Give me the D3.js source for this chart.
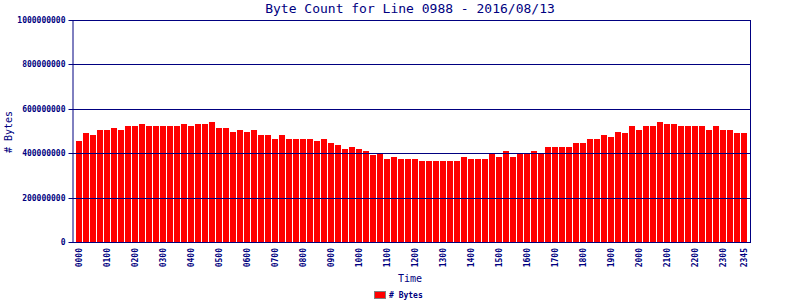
<!DOCTYPE html>
<html><head><meta charset="utf-8">
<script src="https://cdn.jsdelivr.net/npm/d3@7"></script>
<style>body{margin:0;background:#fff}svg{display:block}</style>
</head><body>
<script>
const title = "Byte Count for Line 0988 - 2016/08/13";
const hours = ["00","01","02","03","04","05","06","07","08","09","10","11","12","13","14","15","16","17","18","19","20","21","22","23"];
const quarters = ["00","15","30","45"];
const times = hours.flatMap(h => quarters.map(q => h + q));
const bytes = [
 455,491,486,509,505,518,509,527,527,532,527,527,523,527,527,536,
 523,532,532,541,518,518,500,509,500,505,482,486,468,482,468,468,
 464,464,459,464,446,441,423,432,419,414,392,399,378,387,374,374,
 378,369,365,369,369,369,365,383,378,378,378,399,387,410,387,405,
 399,410,405,428,428,432,428,446,450,464,464,486,477,500,491,523,
 509,527,523,541,532,532,527,527,523,523,505,523,509,509,495,495
].map(v => v * 1e6);
const xTickLabels = ["0000","0100","0200","0300","0400","0500","0600","0700","0800","0900","1000","1100",
 "1200","1300","1400","1500","1600","1700","1800","1900","2000","2100","2200","2300","2345"];
const yTicks = [0,200000000,400000000,600000000,800000000,1000000000];
const seriesName = "# Bytes";

const W = 800, H = 300;
const navy = "#000080";
const svg = d3.select("body").append("svg").attr("width", W).attr("height", H);

const x = d3.scaleBand().domain(times).range([76, 748]).paddingInner(0).paddingOuter(0);
const y = d3.scaleLinear().domain([0, 1e9]).range([242.5, 20.5]);
const crisp = v => Math.floor(v) + 0.5;

// bars
svg.append("g").selectAll("rect").data(bytes).join("rect")
  .attr("x", (d, i) => x(times[i]))
  .attr("width", x.bandwidth() - 1)
  .attr("y", d => Math.round(y(d)))
  .attr("height", d => 242 - Math.round(y(d)))
  .attr("fill", "#ff0000");

// gridlines
svg.append("g").selectAll("line").data(yTicks.filter(t => t > 0)).join("line")
  .attr("x1", 72).attr("x2", 751)
  .attr("y1", d => crisp(y(d))).attr("y2", d => crisp(y(d)))
  .attr("stroke", navy).attr("stroke-width", 1);

// y axis
const yAxis = d3.axisLeft(y).tickValues(yTicks).tickFormat(d3.format("d")).tickSizeInner(4).tickSizeOuter(0).tickPadding(3);
const ga = svg.append("g").attr("transform", "translate(72.5,0)").call(yAxis);
ga.select(".domain").attr("stroke", navy);
ga.selectAll(".tick line").attr("stroke", navy);
ga.selectAll(".tick").attr("transform", d => `translate(0,${crisp(y(d))})`);
ga.selectAll("text").attr("fill", navy).style("font-family", "DejaVu Sans Mono").style("font-size", "8px").style("font-weight", "bold");

// frame: bottom and right
svg.append("line").attr("x1", 72).attr("x2", 751).attr("y1", 242.5).attr("y2", 242.5).attr("stroke", navy);
svg.append("line").attr("x1", 750.5).attr("x2", 750.5).attr("y1", 20).attr("y2", 243).attr("stroke", navy);

// x tick labels
const tickIdx = xTickLabels.map(l => times.indexOf(l));
svg.append("g").selectAll("text").data(xTickLabels).join("text")
  .attr("transform", l => `translate(${x(l) + (x.bandwidth() - 1) / 2 + 3},248) rotate(-90)`)
  .attr("text-anchor", "end")
  .attr("fill", navy)
  .style("font-family", "DejaVu Sans Mono").style("font-size", "8px").style("font-weight", "bold")
  .text(l => l);

// title
svg.append("text").attr("x", 410).attr("y", 13).attr("text-anchor", "middle").attr("fill", navy)
  .style("font-family", "DejaVu Sans Mono").style("font-size", "13px").text(title);

// axis titles
svg.append("text").attr("x", 410).attr("y", 282).attr("text-anchor", "middle").attr("fill", navy)
  .style("font-family", "DejaVu Sans Mono").style("font-size", "10px").text("Time");
svg.append("text").attr("transform", "translate(12,132) rotate(-90)").attr("text-anchor", "middle").attr("fill", navy)
  .style("font-family", "DejaVu Sans Mono").style("font-size", "10px").text(seriesName);

// legend
svg.append("rect").attr("x", 374.5).attr("y", 291.5).attr("width", 11).attr("height", 7)
  .attr("fill", "#ff0000").attr("stroke", "#808080");
svg.append("text").attr("x", 389).attr("y", 298).attr("fill", navy)
  .style("font-family", "DejaVu Sans Mono").style("font-size", "8px").style("font-weight", "bold").text(seriesName);
</script>
</body></html>
